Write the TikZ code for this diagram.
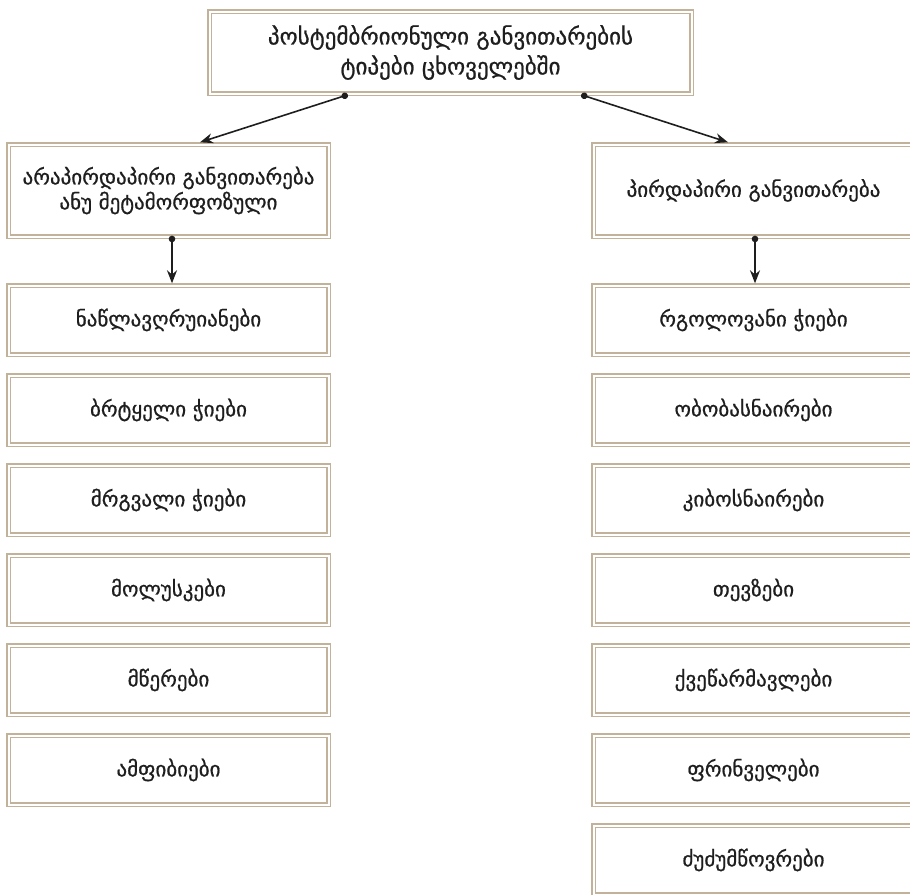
\documentclass[tikz,border=0pt]{standalone}
\usepackage{fontspec}
\setmainfont[FakeBold=0.8]{DejaVu Sans}
\usetikzlibrary{positioning,arrows.meta}
\definecolor{frametan}{HTML}{C2B29A}
\definecolor{inkgray}{HTML}{1E1E1E}
\begin{document}
\begin{tikzpicture}[x=1pt, y=-1pt, node distance=90pt,
  box/.style = {draw=frametan, double=white, double distance=2pt, line width=1.2pt,
    minimum width=320pt, minimum height=69pt, inner sep=0pt, outer sep=2.2pt,
    align=center, text=inkgray, font=\fontsize{21}{25}\selectfont},
  link/.style = {line width=1.6pt, inkgray, shorten <=-3pt,
    {Circle[length=6.5pt]}-{Stealth[length=13pt, width=10pt]}}]
  \path[use as bounding box, clip] (0,0) rectangle (910,894);

  % top
  \node[box, minimum width=482pt, minimum height=82pt, font=\fontsize{23}{30}\selectfont] (top) at (450.5,52.5)
    {პოსტემბრიონული განვითარების\\ტიპები ცხოველებში};

  % left column
  \node[box, minimum height=92pt] (l0) at (168.5,190.5) {არაპირდაპირი განვითარება\\ანუ მეტამორფოზული};
  \node[box] (l1) at (168.5,320) {ნაწლავღრუიანები};
  \node[box] (l2) [below of=l1] {ბრტყელი ჭიები};
  \node[box] (l3) [below of=l2] {მრგვალი ჭიები};
  \node[box] (l4) [below of=l3] {მოლუსკები};
  \node[box] (l5) [below of=l4] {მწერები};
  \node[box] (l6) [below of=l5] {ამფიბიები};

  % right column
  \node[box, minimum height=92pt] (r0) at (753.5,190.5) {პირდაპირი განვითარება};
  \node[box] (r1) at (753.5,320) {რგოლოვანი ჭიები};
  \node[box] (r2) [below of=r1] {ობობასნაირები};
  \node[box] (r3) [below of=r2] {კიბოსნაირები};
  \node[box] (r4) [below of=r3] {თევზები};
  \node[box] (r5) [below of=r4] {ქვეწარმავლები};
  \node[box] (r6) [below of=r5] {ფრინველები};
  \node[box] (r7) [below of=r6] {ძუძუმწოვრები};

  \draw[link] ([xshift=-105.5pt]top.south) to ([xshift=31.5pt]l0.north);
  \draw[link] ([xshift=133.5pt]top.south) to ([xshift=-25.5pt]r0.north);

  \draw[link] ([xshift=3.5pt]l0.south) to ([xshift=3.5pt]l1.north);
  \draw[link] ([xshift=1.5pt]r0.south) to ([xshift=1.5pt]r1.north);
\end{tikzpicture}
\end{document}
